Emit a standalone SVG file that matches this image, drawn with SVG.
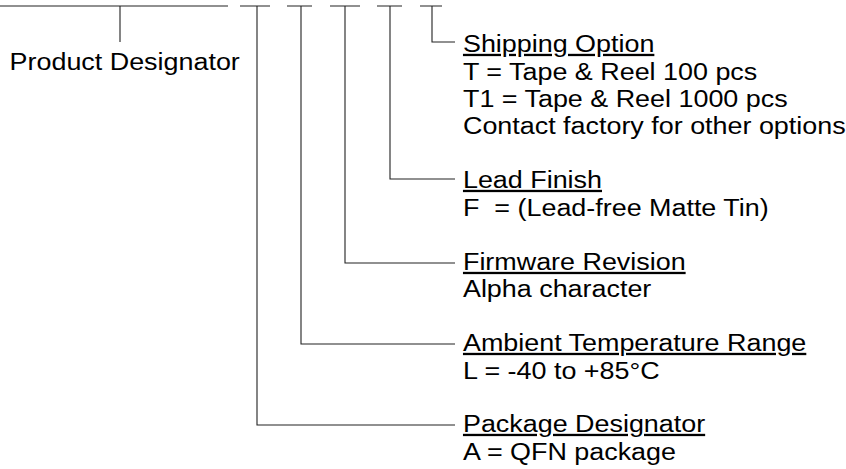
<svg xmlns="http://www.w3.org/2000/svg" width="846" height="469" viewBox="0 0 846 469">
<style>
.ln{stroke:#222;stroke-width:1.1;fill:none}
.t{font-family:"Liberation Sans",Arial,sans-serif;font-size:23px;fill:#000}
.u{text-decoration:underline}
</style>
<rect width="846" height="469" fill="#fff"/>
<g id="connectors">
<path class="ln" d="M0 6H228M120 6V42"/>
<path class="ln" d="M240 6H270M257 6V425H455"/>
<path class="ln" d="M287 6H312M301 6V344H455"/>
<path class="ln" d="M330 6H360M345 6V263H455"/>
<path class="ln" d="M377 6H402M390 6V179H455"/>
<path class="ln" d="M420 6H442M432 6V42H455"/>
</g>
<g transform="scale(1.17,1)">
<g id="product-designator"><text class="t" x="8.2" y="70">Product Designator</text></g>
<g id="shipping-option">
<text class="t u" x="395.7" y="52">Shipping Option</text>
<text class="t" x="395.7" y="80">T = Tape &amp; Reel 100 pcs</text>
<text class="t" x="395.7" y="107">T1 = Tape &amp; Reel 1000 pcs</text>
<text class="t" x="395.7" y="134">Contact factory for other options</text>
</g>
<g id="lead-finish">
<text class="t u" x="395.7" y="188">Lead Finish</text>
<text class="t" x="395.7" y="216">F &#160;= (Lead-free Matte Tin)</text>
</g>
<g id="firmware-revision">
<text class="t u" x="395.7" y="270">Firmware Revision</text>
<text class="t" x="395.7" y="297">Alpha character</text>
</g>
<g id="ambient-temperature-range">
<text class="t u" x="395.7" y="351">Ambient Temperature Range</text>
<text class="t" x="395.7" y="379">L = -40 to +85°C</text>
</g>
<g id="package-designator">
<text class="t u" x="395.7" y="432">Package Designator</text>
<text class="t" x="395.7" y="460">A = QFN package</text>
</g>
</g>
</svg>
